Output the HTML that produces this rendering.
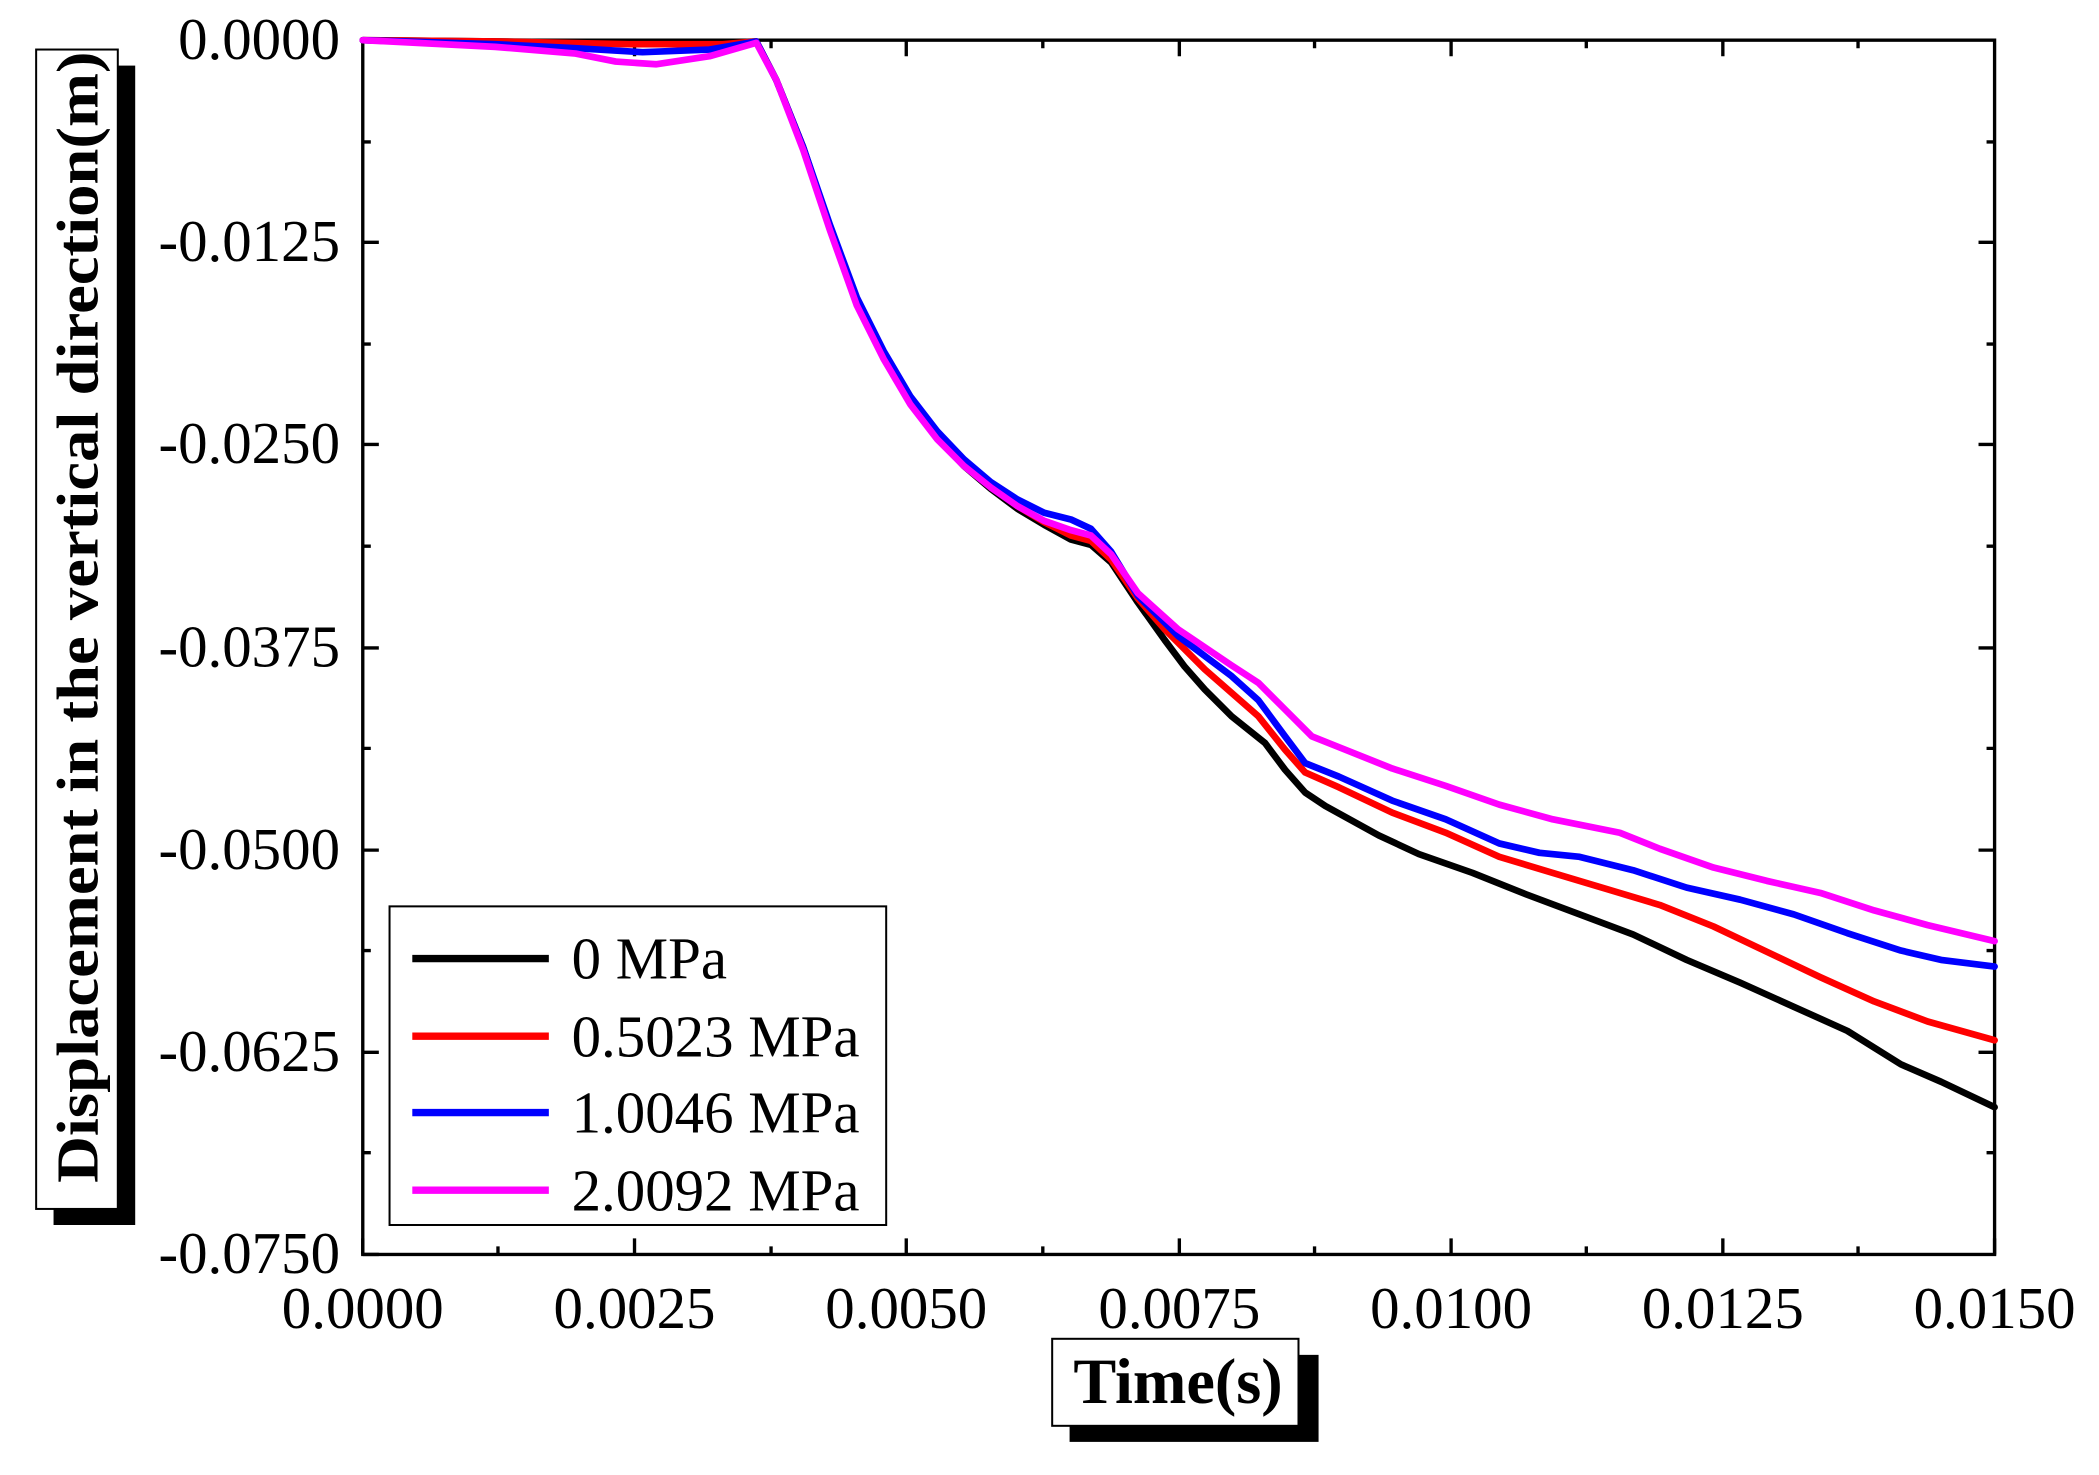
<!DOCTYPE html>
<html><head><meta charset="utf-8"><style>html,body{margin:0;padding:0;background:#fff}</style></head>
<body>
<svg width="2099" height="1470" viewBox="0 0 1568 1098" preserveAspectRatio="none" xmlns="http://www.w3.org/2000/svg" font-family="Liberation Serif, serif">
<rect width="1568" height="1098" fill="#fff"/>
<g stroke="#000" stroke-width="2.5" fill="none">
<rect x="271" y="30" width="1219" height="907"/>
<path d="M271,937v-12M474,937v-12M677,937v-12M881,937v-12M1084,937v-12M1287,937v-12M1490,937v-12
M372,937v-6M576,937v-6M779,937v-6M982,937v-6M1185,937v-6M1388,937v-6
M474,30v12M677,30v12M881,30v12M1084,30v12M1287,30v12
M372,30v6M576,30v6M779,30v6M982,30v6M1185,30v6M1388,30v6"/>
<path d="M271,30h12M271,181h12M271,332h12M271,484h12M271,635h12M271,786h12M271,937h12
M271,106h6M271,257h6M271,408h6M271,559h6M271,710h6M271,861h6
M1490,181h-12M1490,332h-12M1490,484h-12M1490,635h-12M1490,786h-12
M1490,106h-6M1490,257h-6M1490,408h-6M1490,559h-6M1490,710h-6M1490,861h-6"/>
</g>
<g font-size="44" text-anchor="end">
<text x="254" y="44">0.0000</text>
<text x="254" y="195">-0.0125</text>
<text x="254" y="346">-0.0250</text>
<text x="254" y="498">-0.0375</text>
<text x="254" y="649">-0.0500</text>
<text x="254" y="800">-0.0625</text>
<text x="254" y="951">-0.0750</text>
</g>
<g font-size="44" text-anchor="middle">
<text x="271" y="992">0.0000</text>
<text x="474" y="992">0.0025</text>
<text x="677" y="992">0.0050</text>
<text x="881" y="992">0.0075</text>
<text x="1084" y="992">0.0100</text>
<text x="1287" y="992">0.0125</text>
<text x="1490" y="992">0.0150</text>
</g>
<g fill="none" stroke-width="5" stroke-linejoin="round" stroke-linecap="round">
<polyline stroke="#000" points="271,30 370,31 470,32 540,32 565,31 580,60 600,110 620,170 640,225 660,265 680,300 700,327 720,348 740,365 760,380 780,392 800,403 815,407 830,420 850,450 870,478 885,498 900,515 920,535 945,555 960,575 975,592 990,602 1010,613 1030,624 1060,638 1100,652 1140,668 1180,683 1220,698 1260,717 1300,734 1340,752 1380,770 1420,795 1450,808 1490,827"/>
<polyline stroke="#f00" points="271,30 370,31 470,33 540,33 565,31 580,60 600,110 620,170 640,225 660,265 680,300 700,326 720,347 740,363 760,378 780,390 800,400 815,404 830,418 850,447 870,470 900,500 940,535 960,560 975,577 1000,588 1040,607 1080,622 1120,640 1160,652 1200,664 1240,676 1280,692 1320,711 1360,730 1400,748 1440,763 1490,777"/>
<polyline stroke="#00f" points="271,30 370,33 430,36 480,39 530,37 565,31 580,60 600,110 620,168 640,222 660,262 680,296 700,322 720,343 740,360 760,373 780,383 800,388 815,395 830,412 850,445 880,475 920,505 940,523 960,550 975,570 1000,580 1040,598 1080,612 1120,630 1150,637 1180,640 1220,650 1260,663 1300,672 1340,683 1380,697 1420,710 1450,717 1490,722"/>
<polyline stroke="#f0f" points="271,30 370,35 430,40 460,46 490,48 530,42 565,32 580,60 600,112 620,172 640,228 660,268 680,302 700,328 720,348 740,364 760,378 780,389 800,396 815,400 830,414 850,443 880,470 920,497 940,510 960,530 980,550 1000,558 1040,574 1080,587 1120,601 1160,612 1210,622 1240,634 1280,648 1320,658 1360,667 1400,680 1440,691 1490,703"/>
</g>
<rect x="291" y="677" width="371" height="238" fill="#fff" stroke="#000" stroke-width="1.5"/>
<g stroke-width="5.5">
<line x1="308" y1="716" x2="410" y2="716" stroke="#000"/>
<line x1="308" y1="774" x2="410" y2="774" stroke="#f00"/>
<line x1="308" y1="831" x2="410" y2="831" stroke="#00f"/>
<line x1="308" y1="889" x2="410" y2="889" stroke="#f0f"/>
</g>
<g font-size="44">
<text x="427" y="731">0 MPa</text>
<text x="427" y="789">0.5023 MPa</text>
<text x="427" y="846">1.0046 MPa</text>
<text x="427" y="904">2.0092 MPa</text>
</g>
<rect x="40" y="49" width="61" height="866" fill="#000"/>
<rect x="27" y="37" width="61" height="866" fill="#fff" stroke="#000" stroke-width="1.5"/>
<text transform="translate(73,461) rotate(-90)" text-anchor="middle" font-size="44" font-weight="bold" textLength="845" lengthAdjust="spacingAndGlyphs">Displacement in the vertical direction(m)</text>
<rect x="799" y="1012" width="186" height="65" fill="#000"/>
<rect x="786" y="1000" width="184" height="65" fill="#fff" stroke="#000" stroke-width="1.5"/>
<text x="880" y="1048" text-anchor="middle" font-size="48" font-weight="bold">Time(s)</text>
</svg>
</body></html>
